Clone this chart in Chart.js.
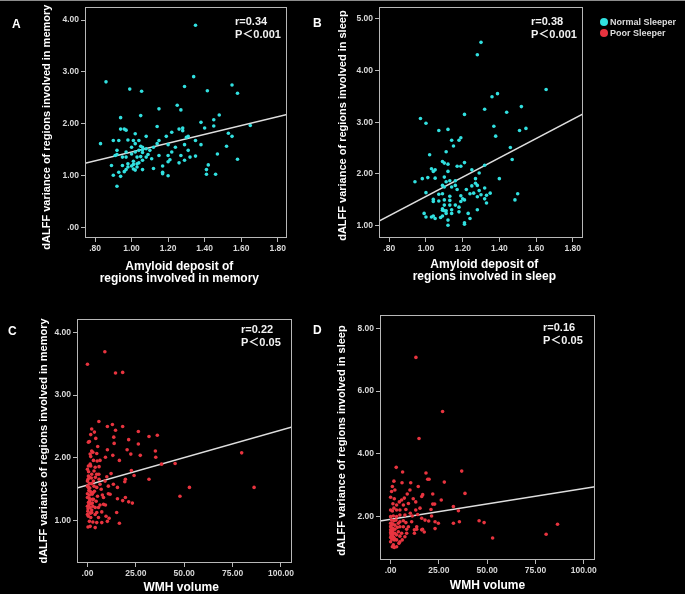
<!DOCTYPE html>
<html>
<head>
<meta charset="utf-8">
<script src="https://cdn.jsdelivr.net/npm/chart.js@4.4.1/dist/chart.umd.min.js"></script>
<style>
  html, body { margin: 0; padding: 0; background: #000; }
  #wrap { position: relative; width: 685px; height: 594px; background: #000; overflow: hidden; }
  #wrap canvas { position: absolute; }
  .topline { position: absolute; left: 0; top: 0; width: 685px; height: 1px; background: #8c8c8c; }
  .letter { position: absolute; color: #fff; font: bold 12px "Liberation Sans", Arial, sans-serif; line-height: 14px; }
  .stat { position: absolute; color: #f2f2f2; font: bold 11px "Liberation Sans", "Noto Sans CJK SC", Arial, sans-serif; line-height: 13px; white-space: nowrap; }
  .legend { position: absolute; left: 600px; top: 17px; color: #dcdcdc; font: bold 9px "Liberation Sans", Arial, sans-serif; line-height: 11px; white-space: nowrap; }
  .legend i { display: inline-block; width: 8px; height: 8px; border-radius: 50%; margin-right: 2px; vertical-align: -1px; }
</style>
</head>
<body>
<div id="wrap">
  <div class="topline"></div>
  <canvas id="chartA" width="300" height="290" style="left:0;top:0"></canvas>
  <canvas id="chartB" width="300" height="290" style="left:300px;top:0"></canvas>
  <canvas id="chartC" width="300" height="294" style="left:0;top:300px"></canvas>
  <canvas id="chartD" width="300" height="294" style="left:300px;top:300px"></canvas>

  <div class="letter" style="left:12px;top:17px">A</div>
  <div class="letter" style="left:313px;top:16px">B</div>
  <div class="letter" style="left:8px;top:324px">C</div>
  <div class="letter" style="left:313px;top:323px">D</div>

  <div class="stat" style="left:235px;top:15px">r=0.34<br>P＜0.001</div>
  <div class="stat" style="left:531px;top:15px">r=0.38<br>P＜0.001</div>
  <div class="stat" style="left:241px;top:323px">r=0.22<br>P＜0.05</div>
  <div class="stat" style="left:543px;top:321px">r=0.16<br>P＜0.05</div>

  <div class="legend">
    <div><i style="background:#31e0e0"></i>Normal Sleeper</div>
    <div><i style="background:#e8343f"></i>Poor Sleeper</div>
  </div>
</div>

<script>
'use strict';

/* ---------- data ---------- */

// A : amyloid (memory regions) vs dALFF (memory), normal sleepers
var aX = [0.83,0.86,0.99,1.055,1.35,1.34,1.29,1.415,1.55,1.58,
          0.94,1.05,1.15,1.25,1.27,1.48,1.45,1.38,1.40,1.45,
          1.53,1.55,1.65,1.52,1.58,1.47,1.42,1.41,1.41,1.46,
          1.38,1.35,1.35,1.32,1.29,1.29,1.30,1.31,1.28,1.28,
          1.26,1.31,1.27,1.26,1.20,1.21,1.20,1.20,1.17,1.17,
          1.17,1.12,1.15,1.14,1.22,1.19,1.14,1.20,1.12,1.08,
          1.08,1.09,1.08,1.06,1.06,1.06,1.06,1.05,1.04,1.04,
          1.03,1.03,1.02,1.02,1.02,1.01,1.00,1.00,1.01,1.00,
          1.01,0.98,0.97,0.97,0.97,0.96,0.98,0.98,0.97,0.96,
          0.95,0.95,0.94,0.93,0.92,0.92,0.91,0.90,0.89,0.90,
          0.93,0.94,0.92,1.05,1.04,1.03,1.02,1.01,
          1.06,1.10,1.11,1.15,1.22,1.24];
var aY = [1.62,2.81,2.67,2.63,3.90,2.91,2.72,2.64,2.75,2.59,
          2.12,2.16,2.29,2.36,2.27,2.17,2.08,2.03,1.92,1.96,
          1.82,1.76,1.97,1.57,1.32,1.42,1.21,1.12,1.03,1.03,
          1.60,1.68,1.38,1.36,1.30,1.60,1.74,1.76,1.87,1.92,
          1.90,1.49,1.39,1.25,1.39,1.31,1.27,1.00,1.07,1.04,
          1.19,1.14,1.68,1.62,1.84,1.76,1.95,1.60,1.55,1.52,
          1.76,1.41,1.36,1.30,1.12,1.55,1.50,1.57,1.68,1.49,
          1.36,1.23,1.46,1.62,1.81,1.68,1.55,1.42,1.28,1.19,
          1.13,1.23,1.36,1.46,1.88,1.90,1.69,1.17,1.12,1.08,
          1.20,1.36,1.90,1.68,1.49,1.41,1.39,1.68,1.20,1.01,
          1.07,0.99,0.80,1.37,1.25,1.17,1.11,1.22,
          1.45,1.49,1.33,1.39,1.46,1.55];
var aFitX = [0.745, 1.851];
var aFitY = [1.24, 2.18];
var aXRange = [0.745, 1.851];
var aYRange = [-0.198, 4.25];
var aXTicks = [0.8, 1.0, 1.2, 1.4, 1.6, 1.8];
var aYTicks = [0, 1, 2, 3, 4];

// B : amyloid (sleep regions) vs dALFF (sleep), normal sleepers
var bX = [1.30,1.28,1.655,1.39,1.36,1.32,1.52,1.44,1.545,1.51,
          1.37,1.38,0.97,1.00,1.21,1.07,1.12,1.14,1.19,1.18,
          1.15,1.11,1.46,1.47,1.02,1.09,1.10,1.12,1.03,1.04,
          1.05,1.17,1.19,1.21,1.32,1.25,1.29,1.40,0.94,0.98,
          1.01,1.05,1.10,1.12,1.16,1.13,1.11,1.09,1.10,1.09,
          1.07,1.00,1.04,1.04,1.07,1.16,1.17,1.19,1.20,1.19,
          1.21,1.22,1.25,1.27,1.27,1.28,1.29,1.30,1.32,1.28,
          1.26,1.24,1.32,1.33,1.35,1.33,1.28,1.23,1.24,1.21,
          1.21,1.18,1.18,1.16,1.14,1.14,1.13,1.13,1.13,1.10,
          1.10,1.09,1.09,1.10,1.11,1.11,1.12,1.12,1.08,1.09,
          1.05,1.04,1.00,0.99,1.485,1.50,1.03,1.14];
var bY = [4.54,4.30,3.63,3.55,3.49,3.25,3.30,3.19,2.88,2.84,
          2.92,2.73,3.07,2.98,3.15,2.84,2.86,2.65,2.70,2.65,
          2.54,2.43,2.51,2.28,2.37,2.24,2.21,2.19,2.10,2.05,
          2.08,2.15,2.15,2.22,2.17,2.08,2.02,1.91,1.85,1.91,
          1.93,1.92,1.94,2.05,1.87,1.87,1.85,1.78,1.75,1.62,
          1.61,1.64,1.51,1.47,1.48,1.78,1.70,1.58,1.52,1.47,
          1.50,1.70,1.77,1.91,1.82,1.78,1.68,1.60,1.73,1.56,
          1.63,1.62,1.52,1.59,1.63,1.44,1.31,1.24,1.14,1.06,
          1.03,1.27,1.36,1.40,1.31,1.24,1.40,1.49,1.57,1.50,
          1.40,1.33,1.30,1.29,1.29,1.24,1.11,1.01,1.16,1.19,
          1.14,1.19,1.17,1.24,1.50,1.62,1.17,1.75];
var bFitX = [0.744, 1.856];
var bFitY = [1.09, 3.16];
var bXRange = [0.744, 1.856];
var bYRange = [0.765, 5.22];
var bXTicks = [0.8, 1.0, 1.2, 1.4, 1.6, 1.8];
var bYTicks = [1, 2, 3, 4, 5];

// C : WMH volume vs dALFF (memory), poor sleepers
var cX = [0,9.0,14.5,18.2,5.9,10.3,12.9,14.5,18.2,26.3,
          31.8,36.1,21.3,13.6,13.8,10.3,20.5,26.3,35.1,35.3,
          27.3,22.4,13.1,9.3,16.5,38.3,45.3,79.7,86.1,52.7,
          47.8,31.8,22.7,24.1,19.6,19.3,12.2,10.0,13.4,15.5,
          15.5,18.2,19.6,21.3,23.2,15.1,16.5,11.2,10.3,7.4,
          4.8,4.0,0.3,1.4,9.6,8.3,9.3,6.5,10.8,7.7,
          6.5,6.0,5.9,6.0,5.0,6.5,5.3,3.6,2.2,1.7,
          0.5,1.0,2.2,2.8,1.7,3.1,1.4,0.5,1.7,0,
          4.0,4.8,2.2,0.5,0,1.0,2.2,3.4,4.8,0.5,
          1.4,0,1.0,2.4,0,1.4,3.1,0.5,1.7,0,
          1.4,2.8,0.2,2.2,4.0,0.5,1.7,1.0,2.8,4.8,
          5.7,4.5,5.2,3.6,4.1,3.4,1.0,0,0.7,0.7,
          2.2,0,5.7,7.4,8.3,10.8,9.1,11.7,7.1,1.4,
          4.3,4.8,3.1,2.6,1.0,4.0,0.3,1.2,2.0,0.8,
          2.5,0.3,1.5,3.0,0.6,2.0];
var cY = [3.49,3.69,3.35,3.36,2.58,2.50,2.53,2.44,2.50,2.42,
          2.34,2.36,2.29,2.33,2.23,2.13,2.13,2.22,2.11,2.01,
          2.04,2.06,2.04,2.01,1.96,1.90,1.91,2.08,1.53,1.53,
          1.39,1.66,1.80,1.72,1.66,1.62,1.75,1.70,1.58,1.53,
          1.35,1.32,1.37,1.30,1.28,1.13,0.96,1.04,0.99,0.97,
          0.97,0.89,0.90,0.91,1.07,1.26,1.25,1.25,1.43,1.41,
          1.58,1.66,1.74,1.86,1.95,1.96,2.18,2.41,2.46,2.37,
          2.25,2.26,2.11,2.09,2.02,1.96,1.90,1.87,1.87,1.82,
          1.85,1.74,1.74,1.71,1.63,1.59,1.59,1.55,1.53,1.53,
          1.47,1.43,1.41,1.42,1.37,1.34,1.34,1.29,1.27,1.23,
          1.21,1.23,1.15,1.13,1.10,1.07,1.05,0.99,0.98,1.13,
          1.21,1.31,1.39,1.47,1.69,1.79,1.69,1.55,1.48,1.25,
          1.17,1.10,1.05,1.14,1.37,1.55,1.63,1.42,1.50,2.06,
          2.31,2.07,1.63,1.34,1.31,1.21,1.66,1.52,1.45,1.36,
          1.28,1.19,1.12,1.45,1.78,1.68];
var cFitX = [-5.4, 105.7];
var cFitY = [1.52, 2.49];
var cXRange = [-5.4, 105.7];
var cYRange = [0.327, 4.21];
var cXTicks = [0, 25, 50, 75, 100];
var cYTicks = [1, 2, 3, 4];

// D : WMH volume vs dALFF (sleep), poor sleepers
var dX = [13.1,26.9,14.7,2.9,6.2,36.8,18.3,19.2,19.9,27.8,
          10.4,5.9,1.7,0.9,2.2,0.5,38.5,26.2,16.6,21.8,
          8.6,7.1,11.7,13.0,4.5,5.7,1.9,0,21.8,22.8,
          32.5,35.1,1.2,3.1,0,0.9,4.8,7.9,13.0,15.2,
          20.9,21.2,14.0,10.2,11.2,7.4,3.1,1.4,16.1,17.8,
          19.7,23.0,24.7,32.5,35.6,45.8,48.4,86.4,80.5,52.8,
          23.0,17.4,16.5,13.5,12.3,8.3,8.3,5.7,4.8,6.0,
          4.3,1.9,1.4,3.1,4.8,6.6,7.9,9.2,10.9,6.6,
          3.5,4.0,3.1,1.9,0.5,0,1.0,0,0.7,0,
          1.0,0,1.4,0.2,1.0,0,0.7,1.9,0,2.2,
          2.2,2.2,2.8,4.0,4.8,1.7,0,4.8,3.1,1.7,
          6.6,9.2,14.3,16.1,10.0,13.5,12.3,16.1,0.9,3.1,
          4.8,7.4,0.4,1.2,0.6,1.5,0.3];
var dY = [7.07,5.35,4.49,3.57,3.42,3.45,3.39,3.19,3.19,3.10,
          3.08,3.08,3.13,2.96,2.85,2.80,2.74,2.53,2.70,2.72,
          2.72,2.59,2.57,2.47,2.47,2.53,2.57,2.62,2.40,2.40,
          2.32,2.19,2.41,2.37,2.21,2.18,2.21,2.23,2.21,2.27,
          2.23,2.02,2.07,2.11,2.02,2.05,2.00,2.02,1.95,1.89,
          1.86,1.84,1.79,1.79,1.84,1.87,1.81,1.76,1.44,1.32,
          1.62,1.51,1.60,1.60,1.58,1.60,1.47,1.47,1.38,1.26,
          1.15,1.02,1.10,1.26,1.84,1.87,1.81,1.68,1.84,1.68,
          1.66,1.52,1.42,1.31,1.89,1.79,1.77,1.68,1.63,1.58,
          1.55,1.49,1.47,1.42,1.38,1.34,1.28,1.26,1.20,1.47,
          1.60,1.73,1.89,1.79,1.68,1.87,2.00,2.05,2.21,2.27,
          2.37,2.42,2.96,2.64,2.85,1.68,1.47,1.58,1.04,1.04,
          1.20,1.36,1.53,1.62,1.44,1.35,1.72];
var dFitX = [-5.5, 105.8];
var dFitY = [1.86, 2.95];
var dXRange = [-5.5, 105.8];
var dYRange = [0.62, 8.42];
var dXTicks = [0, 25, 50, 75, 100];
var dYTicks = [2, 4, 6, 8];

/* ---------- styling ---------- */
var CYAN = '#31e0e0';
var RED = '#e8343f';
var FRAME = '#b8b8b8';
var FONT = '"Liberation Sans", Arial, sans-serif';
var NB = '\u00a0';

// SPSS style tick text: ".80", "1.00", "25.00"
function spssLabel(v) {
	return Number(v).toFixed(2).replace(/^0\./, '.');
}

function pairs(xs, ys) {
	return xs.map(function (x, i) { return { x: x, y: ys[i] }; });
}

// nudge a centred title off the axis centre, the way SPSS places it
function nudge(text, lead, trail) {
	return NB.repeat(lead) + text + NB.repeat(trail);
}

// box round the plot area
var framePlugin = {
	id: 'frame',
	afterDraw: function (chart) {
		var a = chart.chartArea, ctx = chart.ctx;
		ctx.save();
		ctx.strokeStyle = FRAME;
		ctx.lineWidth = 1;
		ctx.strokeRect(Math.round(a.left) + 0.5, Math.round(a.top) + 0.5,
			Math.round(a.right - a.left) - 1, Math.round(a.bottom - a.top) - 1);
		ctx.restore();
	}
};

function makePanel(id, p) {
	return new Chart(document.getElementById(id), {
		type: 'scatter',
		data: {
			datasets: [{
				data: pairs(p.xs, p.ys),
				backgroundColor: p.color,
				borderWidth: 0,
				pointRadius: 1.8
			}, {
				type: 'line',
				data: pairs(p.fitX, p.fitY),
				borderColor: '#dedede',
				borderWidth: 1.5,
				pointRadius: 0,
				fill: false
			}]
		},
		options: {
			responsive: false,
			animation: false,
			layout: { padding: { top: p.padTop, right: p.padRight, left: 0, bottom: 0 } },
			plugins: { legend: { display: false }, tooltip: { enabled: false } },
			scales: {
				x: {
					type: 'linear',
					min: p.xRange[0], max: p.xRange[1],
					afterFit: function (s) { s.height = p.xH; },
					afterBuildTicks: function (s) { s.ticks = p.xTicks.map(function (v) { return { value: v }; }); },
					border: { display: false },
					grid: { drawOnChartArea: false, color: FRAME, tickLength: 4 },
					ticks: {
						autoSkip: false, maxRotation: 0, padding: 2,
						color: '#d8d8d8', font: { family: FONT, size: 8.5, weight: 'bold' },
						callback: spssLabel
					},
					title: {
						display: true, text: p.xTitle, color: '#fff',
						font: { family: FONT, size: 12, weight: 'bold', lineHeight: 1.0 },
						padding: { top: 0, bottom: p.xTitlePad }
					}
				},
				y: {
					type: 'linear',
					min: p.yRange[0], max: p.yRange[1],
					afterFit: function (s) { s.width = p.yW; },
					afterBuildTicks: function (s) { s.ticks = p.yTicks.map(function (v) { return { value: v }; }); },
					border: { display: false },
					grid: { drawOnChartArea: false, color: FRAME, tickLength: 4 },
					ticks: {
						autoSkip: false, padding: 2,
						color: '#d8d8d8', font: { family: FONT, size: 8.5, weight: 'bold' },
						callback: spssLabel
					},
					title: {
						display: true, text: p.yTitle, color: '#fff',
						font: { family: FONT, size: 11, weight: 'bold', lineHeight: 1.2 },
						padding: { top: p.yTitlePad, bottom: 0 }
					}
				}
			}
		},
		plugins: [framePlugin]
	});
}

makePanel('chartA', {
	xs: aX, ys: aY, fitX: aFitX, fitY: aFitY, color: CYAN,
	xRange: aXRange, yRange: aYRange, xTicks: aXTicks, yTicks: aYTicks,
	padTop: 6, padRight: 13, xH: 52, yW: 85, xTitlePad: 5, yTitlePad: 40,
	xTitle: [nudge('Amyloid deposit of', 0, 4), nudge('regions involved in memory', 0, 4)],
	yTitle: nudge('dALFF variance of regions involved in memory', 0, 3)
});

makePanel('chartB', {
	xs: bX, ys: bY, fitX: bFitX, fitY: bFitY, color: CYAN,
	xRange: bXRange, yRange: bYRange, xTicks: bXTicks, yTicks: bYTicks,
	padTop: 5, padRight: 17, xH: 52, yW: 79, xTitlePad: 7, yTitlePad: 36,
	xTitle: [nudge('Amyloid deposit of', 2, 0), nudge('regions involved in sleep', 2, 0)],
	yTitle: nudge('dALFF variance of regions involved in sleep', 0, 2)
});

makePanel('chartC', {
	xs: cX, ys: cY, fitX: cFitX, fitY: cFitY, color: RED,
	xRange: cXRange, yRange: cYRange, xTicks: cXTicks, yTicks: cYTicks,
	padTop: 19, padRight: 8, xH: 31, yW: 77, xTitlePad: 0, yTitlePad: 37,
	xTitle: nudge('WMH volume', 0, 2),
	yTitle: 'dALFF variance of regions involved in memory'
});

makePanel('chartD', {
	xs: dX, ys: dY, fitX: dFitX, fitY: dFitY, color: RED,
	xRange: dXRange, yRange: dYRange, xTicks: dXTicks, yTicks: dYTicks,
	padTop: 15, padRight: 5, xH: 34, yW: 80, xTitlePad: 2, yTitlePad: 35,
	xTitle: 'WMH volume',
	yTitle: nudge('dALFF variance of regions involved in sleep', 0, 2)
});
</script>
</body>
</html>
